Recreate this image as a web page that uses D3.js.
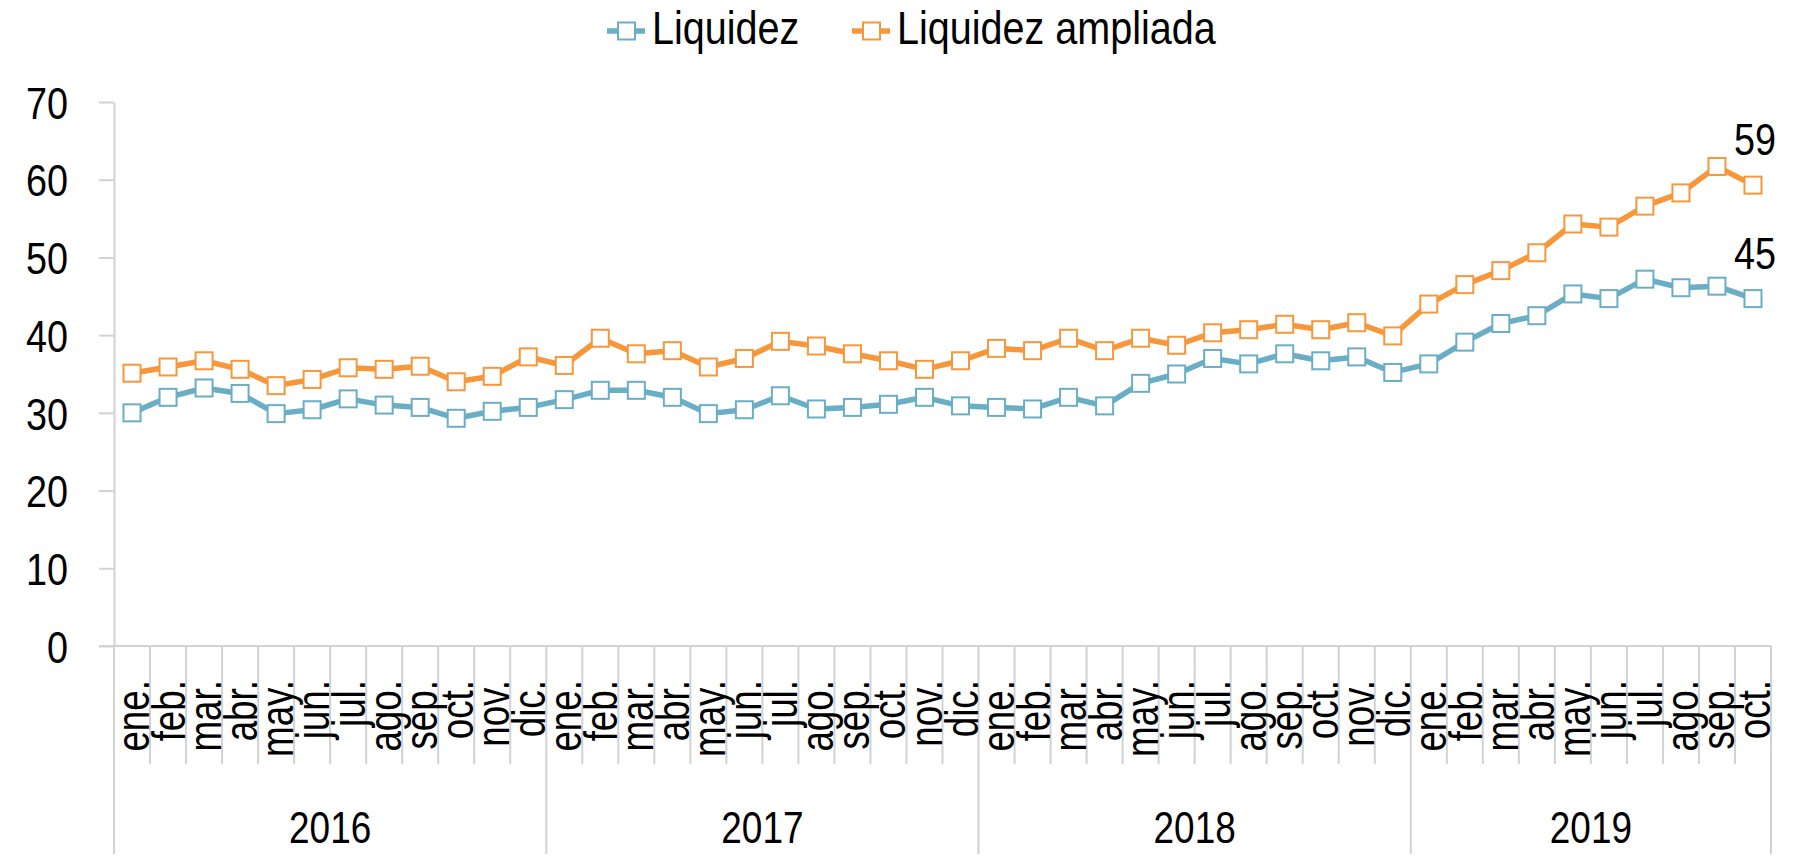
<!DOCTYPE html>
<html>
<head>
<meta charset="utf-8">
<script src="https://cdn.jsdelivr.net/npm/d3@7"></script>
<style>
  body { margin: 0; background: #fff; }
  svg { display: block; }
  text { font-family: "Liberation Sans", Arial, sans-serif; fill: #000; }
</style>
</head>
<body>
<svg width="1794" height="858"></svg>
<script>
// categories
var months = ["ene.", "feb.", "mar.", "abr.", "may.", "jun.", "jul.", "ago.", "sep.", "oct.", "nov.", "dic."];
var years = ["2016", "2017", "2018", "2019"];
var monthsPerYear = [12, 12, 12, 10];

// series
var liquidez = [
  30.0, 32.0, 33.2, 32.5, 29.9, 30.4, 31.8, 31.0, 30.7, 29.3, 30.2, 30.7,
  31.7, 32.9, 32.9, 32.0, 29.9, 30.4, 32.2, 30.5, 30.7, 31.1, 32.0, 30.9,
  30.7, 30.5, 32.0, 30.9, 33.8, 35.0, 37.0, 36.3, 37.6, 36.7, 37.2, 35.2,
  36.3, 39.1, 41.5, 42.5, 45.3, 44.7, 47.2, 46.1, 46.3, 44.7
];
var liquidezAmpliada = [
  35.1, 35.9, 36.7, 35.6, 33.5, 34.3, 35.8, 35.6, 36.0, 34.0, 34.7, 37.2,
  36.1, 39.6, 37.6, 38.0, 35.9, 37.0, 39.2, 38.6, 37.6, 36.7, 35.6, 36.7,
  38.3, 38.0, 39.6, 38.0, 39.6, 38.7, 40.3, 40.7, 41.4, 40.7, 41.6, 39.9,
  44.0, 46.5, 48.3, 50.6, 54.3, 53.9, 56.6, 58.3, 61.7, 59.3
];
var yTicks = [0, 10, 20, 30, 40, 50, 60, 70];

var seriesNames = ["Liquidez", "Liquidez ampliada"];
var colors = ["#6aaec5", "#f7973c"];
var gridColor = "#d2d2d2";
var squeeze = 0.84; // the original uses a condensed face

// build the month categories
var categories = [];
years.forEach(function(yr, yi) {
  for (var m = 0; m < monthsPerYear[yi]; m++) {
    categories.push({ year: yr, month: months[m], idx: categories.length });
  }
});

var series = [liquidez, liquidezAmpliada].map(function(vals, i) {
  return { name: seriesNames[i], color: colors[i], values: vals };
});

var svg = d3.select("svg"),
    margin = { left: 114, right: 23, top: 102, axisY: 646 };

var x = d3.scaleBand()
    .domain(categories.map(function(d) { return d.idx; }))
    .range([margin.left, 1794 - margin.right])
    .paddingInner(0).paddingOuter(0);

var y = d3.scaleLinear()
    .domain([0, 70])
    .range([margin.axisY, margin.top]);

var bw = x.bandwidth();
function cx(i) { return x(i) + bw / 2; }
var xEnd = x.range()[1];

// y axis
var yAxis = svg.append("g")
    .attr("transform", "translate(" + margin.left + ",0)")
    .call(d3.axisLeft(y).tickValues(yTicks).tickSize(15).tickSizeOuter(0));

yAxis.select(".domain").attr("stroke", gridColor).attr("stroke-width", 2);
yAxis.selectAll(".tick line").attr("stroke", gridColor).attr("stroke-width", 2);
yAxis.selectAll(".tick text")
    .attr("x", 0)
    .attr("transform", "translate(-46,0) scale(" + squeeze + ",1)")
    .attr("font-family", null)
    .attr("font-size", 45)
    .attr("dy", "0.36em");

// x axis line
svg.append("line")
    .attr("x1", margin.left - 15).attr("x2", xEnd)
    .attr("y1", y(0)).attr("y2", y(0))
    .attr("stroke", gridColor).attr("stroke-width", 2);

// month separators
var bounds = categories.map(function(d) { return x(d.idx); }).concat([xEnd]);
var yearStarts = [];
var acc = 0;
monthsPerYear.forEach(function(n) { yearStarts.push(acc); acc += n; });
yearStarts.push(acc);

svg.append("g").selectAll("line")
    .data(bounds)
    .enter().append("line")
      .attr("x1", function(d) { return d; })
      .attr("x2", function(d) { return d; })
      .attr("y1", y(0))
      .attr("y2", function(d, i) { return yearStarts.indexOf(i) >= 0 ? 854 : 764; })
      .attr("stroke", gridColor)
      .attr("stroke-width", 2);

// month labels
svg.append("g").selectAll("text")
    .data(categories)
    .enter().append("text")
      .attr("transform", function(d) { return "translate(" + cx(d.idx) + ",680) rotate(-90) scale(0.8,1)"; })
      .attr("dy", "0.37em")
      .attr("text-anchor", "end")
      .attr("font-size", 46)
      .text(function(d) { return d.month; });

// year labels
svg.append("g").selectAll("text")
    .data(years)
    .enter().append("text")
      .attr("transform", function(d, i) {
        return "translate(" + (bounds[yearStarts[i]] + bounds[yearStarts[i + 1]]) / 2 + ",843) scale(" + squeeze + ",1)";
      })
      .attr("text-anchor", "middle")
      .attr("font-size", 44)
      .text(function(d) { return d; });

// lines
var line = d3.line()
    .x(function(d, i) { return cx(i); })
    .y(function(d) { return y(d); });

var sg = svg.append("g").selectAll("g")
    .data(series)
    .enter().append("g");

sg.append("path")
    .attr("d", function(d) { return line(d.values); })
    .attr("fill", "none")
    .attr("stroke", function(d) { return d.color; })
    .attr("stroke-width", 5.5)
    .attr("stroke-linejoin", "round");

sg.selectAll("rect")
    .data(function(d) { return d.values.map(function(v, i) { return { v: v, i: i, color: d.color }; }); })
    .enter().append("rect")
      .attr("x", function(d) { return cx(d.i) - 8.5; })
      .attr("y", function(d) { return y(d.v) - 8.5; })
      .attr("width", 17)
      .attr("height", 17)
      .attr("fill", "#fff")
      .attr("stroke", function(d) { return d.color; })
      .attr("stroke-width", 2);

// end labels
svg.append("g").selectAll("text")
    .data(series)
    .enter().append("text")
      .attr("transform", function(d) {
        var n = d.values.length - 1;
        return "translate(" + (cx(n) + 2) + "," + (y(d.values[n]) - 30) + ") scale(" + squeeze + ",1)";
      })
      .attr("text-anchor", "middle")
      .attr("font-size", 45)
      .text(function(d) { return Math.round(d.values[d.values.length - 1]); });

// legend
var legendX = [607, 852];
var legend = svg.append("g").selectAll("g")
    .data(series)
    .enter().append("g")
      .attr("transform", function(d, i) { return "translate(" + legendX[i] + ",31)"; });

legend.append("line")
    .attr("x1", 0).attr("x2", 38)
    .attr("stroke", function(d) { return d.color; })
    .attr("stroke-width", 5.5);

legend.append("rect")
    .attr("x", 11).attr("y", -8.5)
    .attr("width", 17).attr("height", 17)
    .attr("fill", "#fff")
    .attr("stroke", function(d) { return d.color; })
    .attr("stroke-width", 2);

legend.append("text")
    .attr("transform", "translate(45,13) scale(0.86,1)")
    .attr("font-size", 46)
    .text(function(d) { return d.name; });
</script>
</body>
</html>
